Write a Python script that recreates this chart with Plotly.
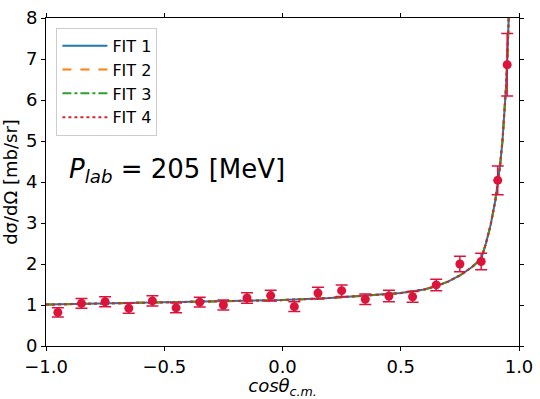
import plotly.graph_objects as go

# measured cross section
cos_x = [-0.95, -0.85, -0.75, -0.65, -0.55, -0.45, -0.35, -0.25, -0.15, -0.05,
         0.05, 0.15, 0.25, 0.35, 0.45, 0.55, 0.65, 0.75, 0.84, 0.91, 0.95]
xs_y = [0.82, 1.04, 1.08, 0.92, 1.10, 0.93, 1.07, 1.00, 1.17, 1.23,
        0.96, 1.29, 1.35, 1.14, 1.22, 1.20, 1.49, 2.00, 2.06, 4.04, 6.86]
xs_err = [0.11, 0.12, 0.12, 0.12, 0.125, 0.12, 0.12, 0.12, 0.13, 0.13,
          0.12, 0.14, 0.14, 0.13, 0.14, 0.13, 0.14, 0.19, 0.20, 0.35, 0.76]

# fit curves (all four lie on top of each other)
fit_x = [-1.0, -0.8, -0.6, -0.4, -0.2, 0.0, 0.2, 0.4, 0.5, 0.6, 0.65, 0.7, 0.75,
         0.8, 0.84, 0.86, 0.88, 0.9, 0.91, 0.92, 0.93, 0.94, 0.945, 0.95, 0.955, 0.96]
fit_y = [1.01, 1.03, 1.05, 1.07, 1.09, 1.12, 1.17, 1.24, 1.29, 1.38, 1.46, 1.57, 1.72,
         1.92, 2.12, 2.50, 2.95, 3.55, 3.95, 4.40, 5.00, 5.75, 6.30, 6.90, 7.70, 8.60]

fit_names = ["FIT 1", "FIT 2", "FIT 3", "FIT 4"]
fit_colors = ["#1f77b4", "#ff7f0e", "#2ca02c", "#d62728"]
fit_dash = ["solid", "dash", "dashdot", "dot"]

fig = go.Figure()

for name, col, dash in zip(fit_names, fit_colors, fit_dash):
    fig.add_trace(go.Scatter(x=fit_x, y=fit_y, mode="lines", name=name,
                             line=dict(color=col, width=2, dash=dash)))

fig.add_trace(go.Scatter(
    x=cos_x, y=xs_y, mode="markers", showlegend=False,
    marker=dict(color="#dc143c", size=9),
    error_y=dict(type="data", array=xs_err, color="#dc143c", thickness=1.5, width=6),
))

fig.add_annotation(x=-0.91, y=4.28, xref="x", yref="y", xanchor="left", yanchor="middle",
                   text="<i>P</i><sub><i>lab</i></sub> = 205 [MeV]", showarrow=False,
                   font=dict(size=26, color="black"))

axis_style = dict(showline=True, linecolor="black", linewidth=1, mirror="ticks",
                  ticks="outside", ticklen=4, tickcolor="black", showgrid=False,
                  zeroline=False, tickfont=dict(size=18, color="black"))

fig.update_layout(
    width=540, height=399,
    margin=dict(l=46, r=17, t=7, b=53),
    plot_bgcolor="white", paper_bgcolor="white",
    font=dict(family="DejaVu Sans", color="black"),
    legend=dict(x=0.022, y=0.97, xanchor="left", yanchor="top",
                bordercolor="#cccccc", borderwidth=1, bgcolor="rgba(255,255,255,0.8)",
                font=dict(size=16), tracegroupgap=0, itemwidth=45),
    xaxis=dict(range=[-1, 1], dtick=0.5, tickformat=".1f",
               title=dict(text="<i>cosθ</i><sub><i>c.m.</i></sub>", font=dict(size=18), standoff=2),
               **axis_style),
    yaxis=dict(range=[0, 8], tickmode="array", tickvals=[0, 1, 2, 3, 4, 5, 6, 7, 8],
               title=dict(text="dσ/dΩ [mb/sr]", font=dict(size=18), standoff=4),
               **axis_style),
)

fig.write_html("out.html", config={"displayModeBar": False},
               post_script="document.body.style.margin='0';")
